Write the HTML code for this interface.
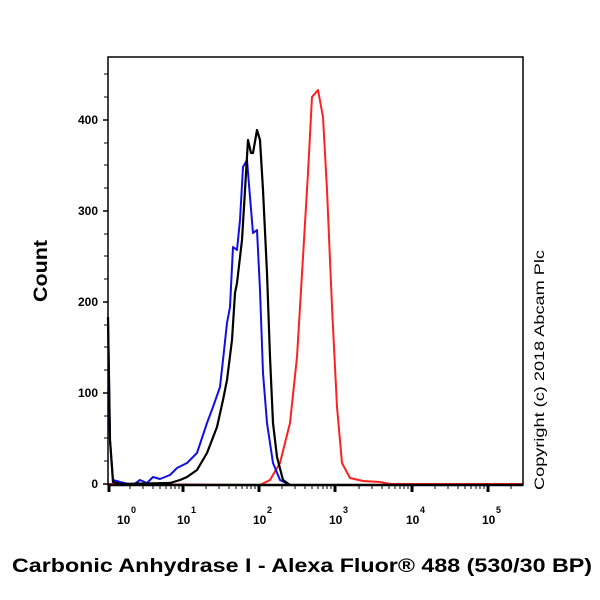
<!DOCTYPE html>
<html><head><style>
body{margin:0;background:#fff;}
svg{display:block;font-family:"Liberation Sans",Arial,sans-serif;}
</style></head><body>
<svg width="600" height="600" viewBox="0 0 600 600">
<rect width="600" height="600" fill="#fff"/>
<g stroke="#000" stroke-width="1.5">
<line x1="103" y1="484" x2="108" y2="484"/><line x1="103" y1="393" x2="108" y2="393"/><line x1="103" y1="302" x2="108" y2="302"/><line x1="103" y1="211" x2="108" y2="211"/><line x1="103" y1="120" x2="108" y2="120"/>
</g>
<g stroke="#000" stroke-width="1">
<line x1="104" y1="461" x2="108" y2="461"/><line x1="104" y1="438" x2="108" y2="438"/><line x1="104" y1="416" x2="108" y2="416"/>
<line x1="104" y1="370" x2="108" y2="370"/><line x1="104" y1="347" x2="108" y2="347"/><line x1="104" y1="325" x2="108" y2="325"/>
<line x1="104" y1="279" x2="108" y2="279"/><line x1="104" y1="256" x2="108" y2="256"/><line x1="104" y1="234" x2="108" y2="234"/>
<line x1="104" y1="188" x2="108" y2="188"/><line x1="104" y1="165" x2="108" y2="165"/><line x1="104" y1="143" x2="108" y2="143"/>
<line x1="104" y1="97" x2="108" y2="97"/><line x1="104" y1="74" x2="108" y2="74"/>
</g>
<g font-size="12" font-weight="bold" text-anchor="end">
<text x="98" y="488">0</text><text x="98" y="397">100</text><text x="98" y="306">200</text><text x="98" y="215">300</text><text x="98" y="124">400</text>
</g>
<g stroke="#000" stroke-width="1">
<path d="M130 485v4M143 485v4M153 485v4M160 485v4M166 485v4M171 485v4M175 485v4M179 485v4
M206 485v4M219 485v4M229 485v4M236 485v4M242 485v4M247 485v4M251 485v4M255 485v4
M282 485v4M295 485v4M305 485v4M312 485v4M318 485v4M323 485v4M327 485v4M331 485v4
M359 485v4M372 485v4M382 485v4M389 485v4M395 485v4M400 485v4M404 485v4M408 485v4
M435 485v4M448 485v4M458 485v4M465 485v4M471 485v4M476 485v4M480 485v4M484 485v4
M511 485v4"/>
</g>
<g stroke="#000" stroke-width="3">
<path d="M109 485v7M183 485v7M259 485v7M335 485v7M412 485v7M488 485v7"/>
</g>
<g font-size="12" font-weight="bold">
<text x="117" y="524">10</text><text x="131" y="513" font-size="9">0</text>
<text x="177" y="524">10</text><text x="191" y="513" font-size="9">1</text>
<text x="253" y="524">10</text><text x="267" y="513" font-size="9">2</text>
<text x="329" y="524">10</text><text x="343" y="513" font-size="9">3</text>
<text x="406" y="524">10</text><text x="420" y="513" font-size="9">4</text>
<text x="482" y="524">10</text><text x="496" y="513" font-size="9">5</text>
</g>
<g fill="none" stroke-width="2" stroke-linejoin="round">
<polyline stroke="#ff2020" points="108,484 260,485 270,480 280,463 290,423 297,357 303,257 308,173 312,97 318,90 323,117 327,190 332,307 337,407 342,463 350,478 363,481 380,482 390,484 523,484"/>
<polyline stroke="#1010e0" points="108,317 110,440 113,480 120,482 133,485 140,480 147,483 153,477 160,479 170,475 177,468 187,463 197,453 207,423 213,407 220,387 223,360 227,323 230,307 233,247 237,250 240,220 243,167 247,160 250,197 253,233 257,230 260,290 263,373 267,423 273,463 280,480 290,485 523,485"/>
<polyline stroke="#000" stroke-width="2.2" points="108,317 110,440 113,482 120,484 170,483 180,480 187,477 197,470 207,453 217,427 223,400 227,380 232,340 235,293 237,283 242,240 245,190 248,140 251,153 253,153 257,130 260,140 263,190 267,273 270,357 273,423 277,457 283,480 290,485"/>
</g>
<rect x="108" y="57" width="415" height="428" fill="none" stroke="#000" stroke-width="1.5"/>
<line x1="108" y1="485" x2="523" y2="485" stroke="#000" stroke-width="2.5"/>
<text transform="translate(47,271) rotate(-90)" font-size="19" font-weight="bold" text-anchor="middle" textLength="62" lengthAdjust="spacingAndGlyphs">Count</text>
<text transform="translate(544,370) rotate(-90)" font-size="14" text-anchor="middle" textLength="240" lengthAdjust="spacingAndGlyphs">Copyright (c) 2018 Abcam Plc</text>
<text x="302" y="572" font-size="19" font-weight="bold" text-anchor="middle" textLength="580" lengthAdjust="spacingAndGlyphs">Carbonic Anhydrase I - Alexa Fluor® 488 (530/30 BP)</text>
</svg>
</body></html>
